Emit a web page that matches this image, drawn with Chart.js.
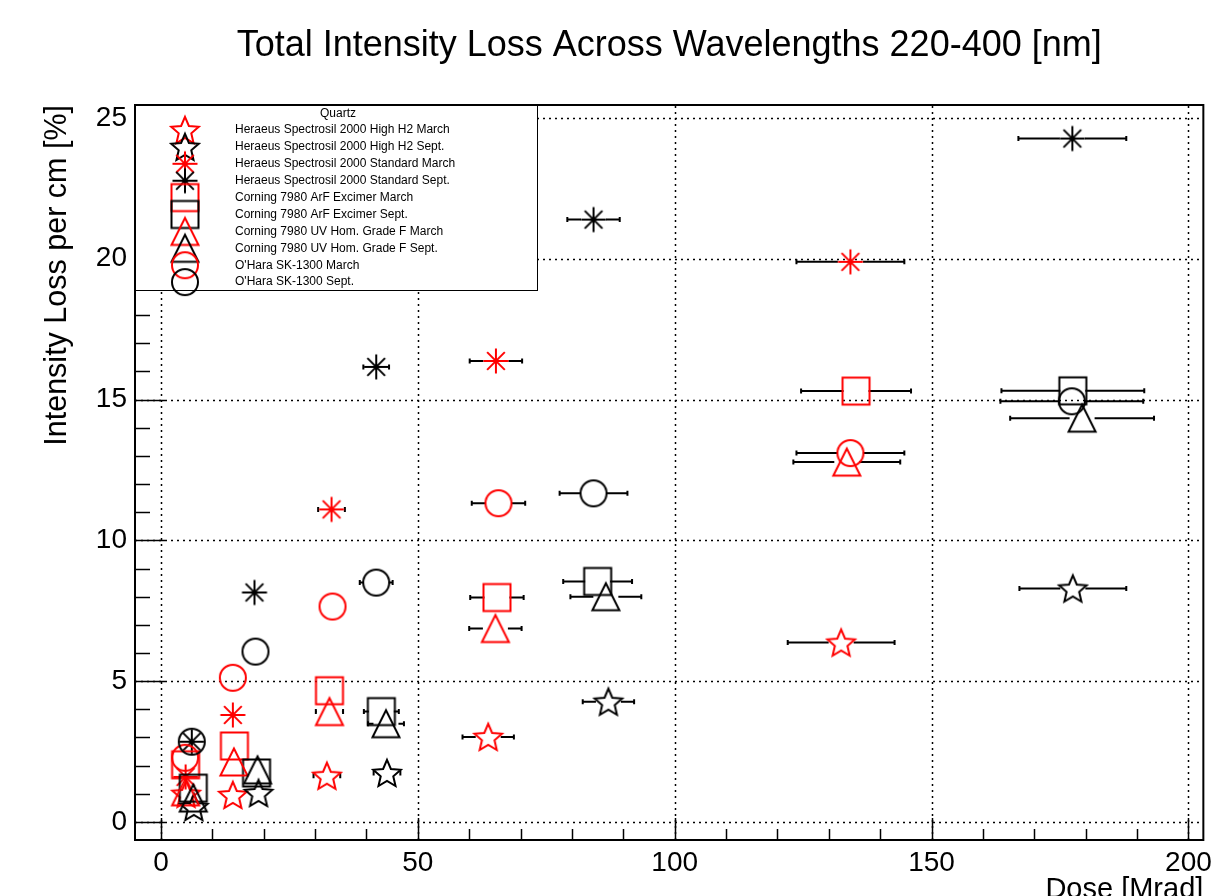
<!DOCTYPE html>
<html>
<head>
<meta charset="utf-8">
<script src="https://cdn.jsdelivr.net/npm/chart.js@4.4.1/dist/chart.umd.min.js"></script>
<style>html,body{margin:0;padding:0;background:#fff}</style>
</head>
<body>
<canvas id="plot" width="1218" height="896"></canvas>
<script>
// axis ticks
const xTicks = [0, 50, 100, 150, 200];
const yTicks = [0, 5, 10, 15, 20, 25];

const seriesNames = [
  'Heraeus Spectrosil 2000 High H2 March',
  'Heraeus Spectrosil 2000 High H2 Sept.',
  'Heraeus Spectrosil 2000 Standard March',
  'Heraeus Spectrosil 2000 Standard Sept.',
  'Corning 7980 ArF Excimer March',
  'Corning 7980 ArF Excimer Sept.',
  'Corning 7980 UV Hom. Grade F March',
  'Corning 7980 UV Hom. Grade F Sept.',
  "O'Hara SK-1300 March",
  "O'Hara SK-1300 Sept."
];
const seriesColors = ['#ff0000', '#000000', '#ff0000', '#000000', '#ff0000', '#000000', '#ff0000', '#000000', '#ff0000', '#000000'];
const seriesShapes = ['star5', 'star5', 'asterisk', 'asterisk', 'square', 'square', 'triangle', 'triangle', 'circle', 'circle'];

// dose [Mrad], loss [%], dose error [Mrad]
const hh2MarDose = [4.9, 14.0, 32.3, 63.7, 132.4];
const hh2MarLoss = [1.0, 0.96, 1.64, 3.02, 6.37];
const hh2MarErr  = [0.4, 1.1, 2.6, 5.0, 10.4];

const hh2SepDose = [6.4, 19.0, 44.0, 87.1, 177.5];
const hh2SepLoss = [0.53, 1.03, 1.74, 4.27, 8.29];
const hh2SepErr  = [0.4, 1.1, 2.6, 5.0, 10.4];

const stdMarDose = [4.8, 14.0, 33.2, 65.2, 134.2];
const stdMarLoss = [1.6, 3.8, 11.1, 16.37, 19.89];
const stdMarErr  = [0.4, 1.1, 2.6, 5.1, 10.5];

const stdSepDose = [6.0, 18.2, 41.9, 84.2, 177.4];
const stdSepLoss = [2.85, 8.15, 16.16, 21.39, 24.27];
const stdSepErr  = [0.4, 1.1, 2.5, 5.1, 10.5];

const arfMarDose = [4.8, 14.3, 32.8, 65.4, 135.3];
const arfMarLoss = [2.03, 2.7, 4.66, 7.97, 15.3];
const arfMarErr  = [0.4, 1.1, 2.3, 5.2, 10.7];

const arfSepDose = [6.3, 18.6, 42.9, 85.0, 177.5];
const arfSepLoss = [1.2, 1.74, 3.92, 8.54, 15.31];
const arfSepErr  = [0.5, 1.5, 3.4, 6.7, 13.9];

const uvMarDose = [4.8, 14.2, 32.8, 65.1, 133.5];
const uvMarLoss = [1.07, 2.13, 3.92, 6.87, 12.78];
const uvMarErr  = [0.4, 1.1, 2.65, 5.1, 10.4];

const uvSepDose = [6.3, 18.8, 43.8, 86.6, 179.3];
const uvSepLoss = [0.85, 1.85, 3.49, 8.0, 14.34];
const uvSepErr  = [0.5, 1.5, 3.5, 6.9, 14.0];

const ohMarDose = [4.7, 14.0, 33.4, 65.7, 134.2];
const ohMarLoss = [2.28, 5.12, 7.65, 11.32, 13.1];
const ohMarErr  = [0.4, 1.1, 2.3, 5.2, 10.5];

const ohSepDose = [6.0, 18.4, 41.9, 84.2, 177.3];
const ohSepLoss = [2.85, 6.05, 8.5, 11.67, 14.94];
const ohSepErr  = [0.5, 1.5, 3.2, 6.6, 13.9];

const doses = [hh2MarDose, hh2SepDose, stdMarDose, stdSepDose, arfMarDose, arfSepDose, uvMarDose, uvSepDose, ohMarDose, ohSepDose];
const losses = [hh2MarLoss, hh2SepLoss, stdMarLoss, stdSepLoss, arfMarLoss, arfSepLoss, uvMarLoss, uvSepLoss, ohMarLoss, ohSepLoss];
const errs = [hh2MarErr, hh2SepErr, stdMarErr, stdSepErr, arfMarErr, arfSepErr, uvMarErr, uvSepErr, ohMarErr, ohSepErr];

const FONT = "'Liberation Sans', Arial, sans-serif";

// ROOT style open markers, drawn once into small canvases
function makeMarker(shape, color) {
  const c = document.createElement('canvas');
  c.width = 34; c.height = 34;
  const g = c.getContext('2d');
  const m = 17;
  g.strokeStyle = color;
  g.lineWidth = 2;
  g.beginPath();
  if (shape === 'circle') {
    g.arc(m, m, 13, 0, Math.PI * 2);
  } else if (shape === 'square') {
    g.rect(m - 13.5, m - 13.5, 27, 27);
  } else if (shape === 'triangle') {
    g.moveTo(m, m - 13.5);
    g.lineTo(m + 13.5, m + 13.5);
    g.lineTo(m - 13.5, m + 13.5);
    g.closePath();
  } else if (shape === 'asterisk') {
    for (let k = 0; k < 4; k++) {
      const a = k * Math.PI / 4;
      g.moveTo(m - Math.cos(a) * 12.5, m - Math.sin(a) * 12.5);
      g.lineTo(m + Math.cos(a) * 12.5, m + Math.sin(a) * 12.5);
    }
  } else if (shape === 'star5') {
    const R = 14.5, r = 6.6, cy = m + 1.3;
    for (let k = 0; k < 10; k++) {
      const a = -Math.PI / 2 + k * Math.PI / 5;
      const rr = k % 2 ? r : R;
      const px = m + Math.cos(a) * rr, py = cy + Math.sin(a) * rr;
      if (k === 0) g.moveTo(px, py); else g.lineTo(px, py);
    }
    g.closePath();
  }
  g.stroke();
  return c;
}

const markers = seriesShapes.map((s, i) => makeMarker(s, seriesColors[i]));

const datasets = seriesNames.map((name, i) => ({
  label: name,
  data: doses[i].map((d, j) => ({ x: d, y: losses[i][j], xErr: errs[i][j] })),
  pointStyle: markers[i],
  pointRadius: 13,
  borderColor: seriesColors[i],
  backgroundColor: 'rgba(0,0,0,0)',
  order: seriesNames.length - i
}));

const rootFrame = {
  id: 'rootFrame',
  beforeDatasetsDraw(chart) {
    const { ctx, chartArea: a, scales: { x, y } } = chart;
    ctx.save();
    // dotted grid
    ctx.strokeStyle = '#000';
    ctx.lineWidth = 1.5;
    ctx.setLineDash([2, 4]);
    xTicks.forEach(v => {
      const px = Math.round(x.getPixelForValue(v)) + 0.5;
      ctx.beginPath(); ctx.moveTo(px, a.bottom); ctx.lineTo(px, a.top); ctx.stroke();
    });
    yTicks.forEach(v => {
      const py = Math.round(y.getPixelForValue(v)) + 0.5;
      ctx.beginPath(); ctx.moveTo(a.left, py); ctx.lineTo(a.right, py); ctx.stroke();
    });
    ctx.setLineDash([]);
    // inside ticks
    ctx.lineWidth = 1.5;
    for (let v = 0; v <= 200; v += 10) {
      const px = Math.round(x.getPixelForValue(v)) + 0.5;
      const len = v % 50 === 0 ? 22 : 11;
      ctx.beginPath(); ctx.moveTo(px, a.bottom); ctx.lineTo(px, a.bottom - len); ctx.stroke();
    }
    for (let v = 0; v <= 25; v += 1) {
      const py = Math.round(y.getPixelForValue(v)) + 0.5;
      const len = v % 5 === 0 ? 30 : 15;
      ctx.beginPath(); ctx.moveTo(a.left, py); ctx.lineTo(a.left + len, py); ctx.stroke();
    }
    // frame
    ctx.lineWidth = 2;
    ctx.strokeRect(a.left, a.top, a.right - a.left, a.bottom - a.top);
    // horizontal error bars, left open where the marker sits
    const gap = 12.5;
    ctx.lineWidth = 2;
    chart.data.datasets.forEach(ds => {
      ds.data.forEach(p => {
        const cx = x.getPixelForValue(p.x);
        const cy = y.getPixelForValue(p.y);
        const lo = x.getPixelForValue(p.x - p.xErr);
        const hi = x.getPixelForValue(p.x + p.xErr);
        if (cx - lo <= gap) return;
        ctx.beginPath();
        ctx.moveTo(lo, cy); ctx.lineTo(cx - gap, cy);
        ctx.moveTo(cx + gap, cy); ctx.lineTo(hi, cy);
        ctx.moveTo(lo, cy - 2.5); ctx.lineTo(lo, cy + 2.5);
        ctx.moveTo(hi, cy - 2.5); ctx.lineTo(hi, cy + 2.5);
        ctx.stroke();
      });
    });
    ctx.restore();
  },
  afterDatasetsDraw(chart) {
    const { ctx, chartArea: a } = chart;
    ctx.save();
    // title, centred over the frame
    ctx.fillStyle = '#000';
    ctx.textAlign = 'center';
    ctx.textBaseline = 'middle';
    ctx.font = '36px ' + FONT;
    ctx.fillText('Total Intensity Loss Across Wavelengths 220-400 [nm]', (a.left + a.right) / 2, 46);
    // legend box
    const lw = 402, lh = 185;
    ctx.fillStyle = '#fff';
    ctx.fillRect(a.left, a.top, lw, lh);
    ctx.strokeStyle = '#000';
    ctx.lineWidth = 1;
    ctx.strokeRect(a.left + 0.5, a.top + 0.5, lw, lh);
    ctx.fillStyle = '#000';
    ctx.textAlign = 'center';
    ctx.font = '12px ' + FONT;
    ctx.fillText('Quartz', a.left + 203, a.top + 9);
    ctx.textAlign = 'left';
    chart.data.datasets.forEach((ds, i) => {
      const ry = a.top + 25 + i * 16.9;
      ctx.drawImage(markers[i], a.left + 50 - 17, ry - 17);
      ctx.fillText(ds.label, a.left + 100, ry);
    });
    // x axis title, bottom right
    ctx.textAlign = 'right';
    ctx.textBaseline = 'alphabetic';
    ctx.font = '29px ' + FONT;
    ctx.fillText('Dose [Mrad]', a.right, 898);
    ctx.restore();
  }
};

new Chart(document.getElementById('plot').getContext('2d'), {
  type: 'scatter',
  data: { datasets },
  options: {
    responsive: false,
    animation: false,
    devicePixelRatio: 1,
    layout: { padding: { left: 0, right: 13, top: 105, bottom: 0 } },
    plugins: {
      legend: { display: false },
      tooltip: { enabled: false },
      title: { display: false }
    },
    scales: {
      x: {
        type: 'linear', min: -5.05, max: 202.9,
        grid: { display: false, drawTicks: false }, border: { display: false },
        afterBuildTicks: s => { s.ticks = xTicks.map(v => ({ value: v })); },
        afterFit: s => { s.height = 56; },
        ticks: { color: '#000', font: { family: FONT, size: 28 }, padding: 6, maxRotation: 0, autoSkip: false }
      },
      y: {
        type: 'linear', min: -0.64, max: 25.46,
        grid: { display: false, drawTicks: false }, border: { display: false },
        afterBuildTicks: s => { s.ticks = yTicks.map(v => ({ value: v })); },
        afterFit: s => { s.width = 135; },
        ticks: { color: '#000', font: { family: FONT, size: 28 }, padding: 8, autoSkip: false },
        title: {
          display: true, text: 'Intensity Loss per cm [%]', align: 'end', color: '#000',
          font: { family: FONT, size: 30.5 }, padding: { top: 39, bottom: 0 }
        }
      }
    }
  },
  plugins: [rootFrame]
});
</script>
</body>
</html>
